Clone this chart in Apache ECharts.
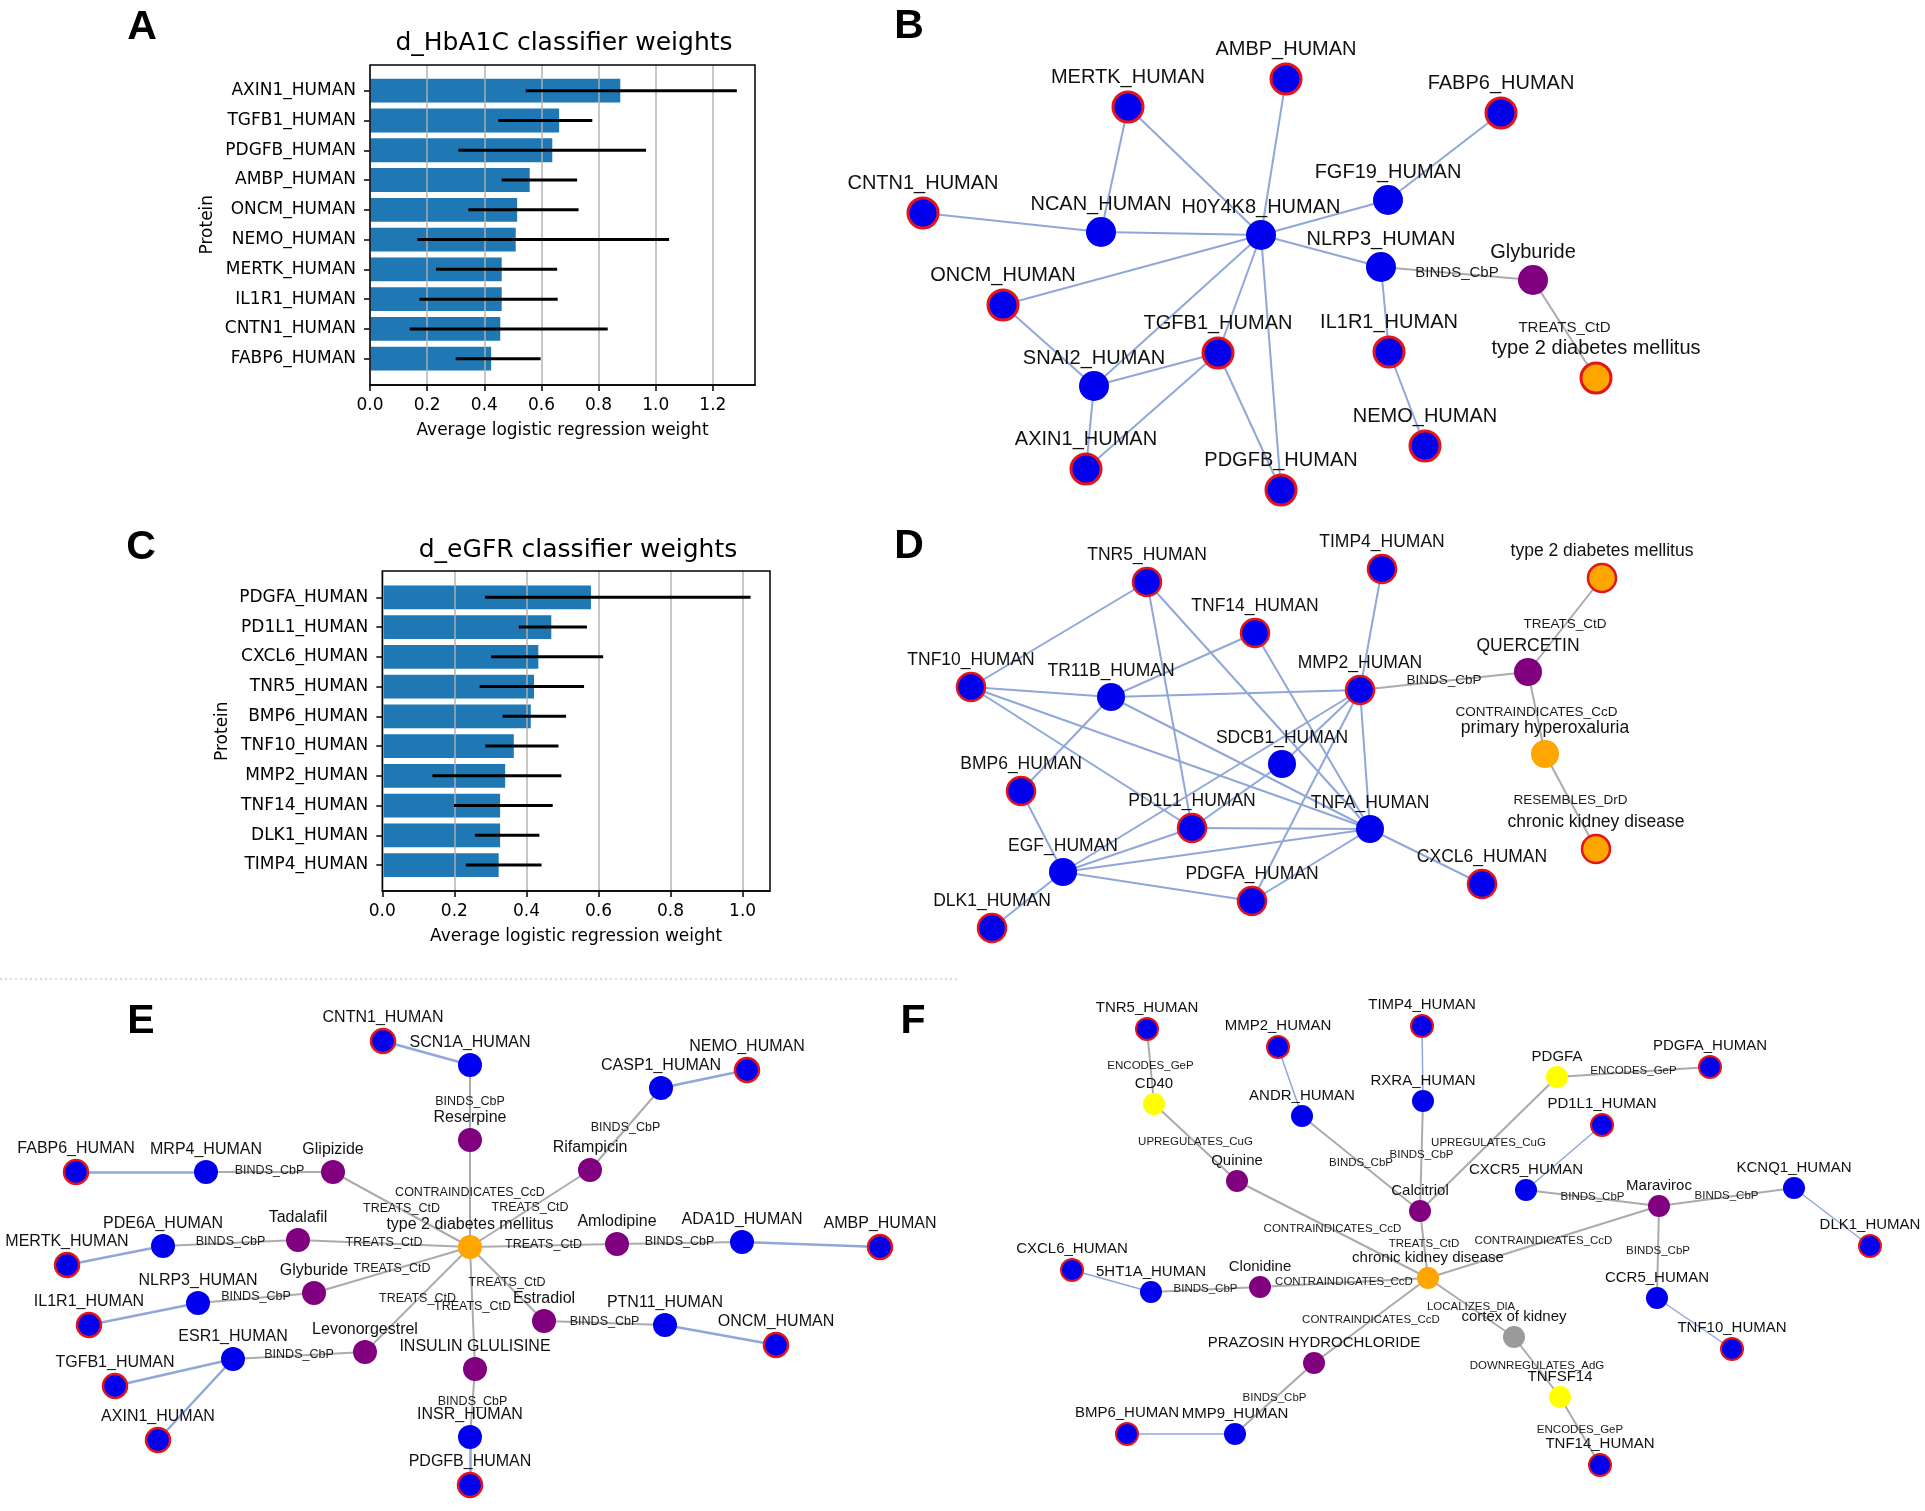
<!DOCTYPE html>
<html><head><meta charset="utf-8">
<script src="https://cdn.jsdelivr.net/npm/echarts@6/dist/echarts.min.js"></script>
<style>html,body{margin:0;padding:0;background:#fff}#c{width:1925px;height:1511px}</style>
</head><body><div id="c"></div>
<script>
// ---------- Panel A data ----------
const hbaProteins = ['AXIN1_HUMAN','TGFB1_HUMAN','PDGFB_HUMAN','AMBP_HUMAN','ONCM_HUMAN','NEMO_HUMAN','MERTK_HUMAN','IL1R1_HUMAN','CNTN1_HUMAN','FABP6_HUMAN'];
const hbaWeights = [0.876,0.662,0.638,0.559,0.515,0.510,0.461,0.461,0.456,0.424];
const hbaErrLow  = [0.545,0.449,0.309,0.461,0.344,0.166,0.231,0.173,0.139,0.300];
const hbaErrHigh = [1.284,0.778,0.966,0.725,0.730,1.047,0.655,0.657,0.832,0.597];
const hbaTicks = [0,0.2,0.4,0.6,0.8,1.0,1.2];
// ---------- Panel C data ----------
const egfrProteins = ['PDGFA_HUMAN','PD1L1_HUMAN','CXCL6_HUMAN','TNR5_HUMAN','BMP6_HUMAN','TNF10_HUMAN','MMP2_HUMAN','TNF14_HUMAN','DLK1_HUMAN','TIMP4_HUMAN'];
const egfrWeights = [0.579,0.469,0.433,0.421,0.412,0.365,0.341,0.327,0.327,0.323];
const egfrErrLow  = [0.285,0.379,0.302,0.270,0.334,0.286,0.139,0.199,0.257,0.232];
const egfrErrHigh = [1.022,0.568,0.613,0.560,0.510,0.489,0.497,0.473,0.436,0.442];
const egfrTicks = [0,0.2,0.4,0.6,0.8,1.0];

// ---------- Network data: [name, kind, layoutX, layoutY] ----------
// kinds: P protein, PT classifier protein, C compound, D disease, DT highlighted disease, G gene, A anatomy
const bNodes = [
 ['AMBP_HUMAN','PT',426,79],['MERTK_HUMAN','PT',268,107],['FABP6_HUMAN','PT',641,113],
 ['CNTN1_HUMAN','PT',63,213],['FGF19_HUMAN','P',528,200],['NCAN_HUMAN','P',241,232],
 ['H0Y4K8_HUMAN','P',401,235],['NLRP3_HUMAN','P',521,267],['Glyburide','C',673,280],
 ['ONCM_HUMAN','PT',143,305],['TGFB1_HUMAN','PT',358,353],['IL1R1_HUMAN','PT',529,352],
 ['type 2 diabetes mellitus','DT',736,378],['SNAI2_HUMAN','P',234,386],['NEMO_HUMAN','PT',565,446],
 ['AXIN1_HUMAN','PT',226,469],['PDGFB_HUMAN','PT',421,490]
];
const bLinks = [
 ['MERTK_HUMAN','NCAN_HUMAN',''],['MERTK_HUMAN','H0Y4K8_HUMAN',''],['AMBP_HUMAN','H0Y4K8_HUMAN',''],
 ['FABP6_HUMAN','FGF19_HUMAN',''],['FGF19_HUMAN','H0Y4K8_HUMAN',''],['CNTN1_HUMAN','NCAN_HUMAN',''],
 ['NCAN_HUMAN','H0Y4K8_HUMAN',''],['H0Y4K8_HUMAN','NLRP3_HUMAN',''],['H0Y4K8_HUMAN','ONCM_HUMAN',''],
 ['H0Y4K8_HUMAN','SNAI2_HUMAN',''],['H0Y4K8_HUMAN','TGFB1_HUMAN',''],['H0Y4K8_HUMAN','PDGFB_HUMAN',''],
 ['ONCM_HUMAN','SNAI2_HUMAN',''],['SNAI2_HUMAN','TGFB1_HUMAN',''],['SNAI2_HUMAN','AXIN1_HUMAN',''],
 ['TGFB1_HUMAN','AXIN1_HUMAN',''],['TGFB1_HUMAN','PDGFB_HUMAN',''],['NLRP3_HUMAN','IL1R1_HUMAN',''],
 ['IL1R1_HUMAN','NEMO_HUMAN',''],['NLRP3_HUMAN','Glyburide','BINDS_CbP'],
 ['Glyburide','type 2 diabetes mellitus','TREATS_CtD']
];
const dNodes = [
 ['TIMP4_HUMAN','PT',522,59],['type 2 diabetes mellitus','DT',742,68],['TNR5_HUMAN','PT',287,72],
 ['TNF14_HUMAN','PT',395,123],['TNF10_HUMAN','PT',111,177],['TR11B_HUMAN','P',251,187],
 ['MMP2_HUMAN','PT',500,180],['QUERCETIN','C',668,162],['SDCB1_HUMAN','P',422,254],
 ['primary hyperoxaluria','D',685,244],['BMP6_HUMAN','PT',161,281],['PD1L1_HUMAN','PT',332,318],
 ['TNFA_HUMAN','P',510,319],['chronic kidney disease','DT',736,339],['EGF_HUMAN','P',203,362],
 ['CXCL6_HUMAN','PT',622,374],['PDGFA_HUMAN','PT',392,391],['DLK1_HUMAN','PT',132,418]
];
const dLinks = [
 ['TNR5_HUMAN','TNF10_HUMAN',''],['TNR5_HUMAN','PD1L1_HUMAN',''],['TNR5_HUMAN','TNFA_HUMAN',''],
 ['TNF14_HUMAN','TR11B_HUMAN',''],['TNF14_HUMAN','TNFA_HUMAN',''],['TIMP4_HUMAN','MMP2_HUMAN',''],
 ['TNF10_HUMAN','TR11B_HUMAN',''],['TNF10_HUMAN','PD1L1_HUMAN',''],['TNF10_HUMAN','TNFA_HUMAN',''],
 ['TR11B_HUMAN','MMP2_HUMAN',''],['TR11B_HUMAN','TNFA_HUMAN',''],['TR11B_HUMAN','BMP6_HUMAN',''],
 ['BMP6_HUMAN','EGF_HUMAN',''],['MMP2_HUMAN','EGF_HUMAN',''],['MMP2_HUMAN','SDCB1_HUMAN',''],
 ['SDCB1_HUMAN','PD1L1_HUMAN',''],['MMP2_HUMAN','PDGFA_HUMAN',''],['MMP2_HUMAN','TNFA_HUMAN',''],
 ['PD1L1_HUMAN','TNFA_HUMAN',''],['EGF_HUMAN','PD1L1_HUMAN',''],['EGF_HUMAN','TNFA_HUMAN',''],
 ['EGF_HUMAN','PDGFA_HUMAN',''],['EGF_HUMAN','DLK1_HUMAN',''],['PDGFA_HUMAN','TNFA_HUMAN',''],
 ['TNFA_HUMAN','CXCL6_HUMAN',''],['MMP2_HUMAN','QUERCETIN','BINDS_CbP'],
 ['QUERCETIN','type 2 diabetes mellitus','TREATS_CtD'],
 ['QUERCETIN','primary hyperoxaluria','CONTRAINDICATES_CcD'],
 ['primary hyperoxaluria','chronic kidney disease','RESEMBLES_DrD']
];
const eNodes = [
 ['CNTN1_HUMAN','PT',383,61],['SCN1A_HUMAN','P',470,85],['NEMO_HUMAN','PT',747,90],
 ['CASP1_HUMAN','P',661,108],['Reserpine','C',470,160],['FABP6_HUMAN','PT',76,192],
 ['MRP4_HUMAN','P',206,192],['Glipizide','C',333,192],['Rifampicin','C',590,190],
 ['type 2 diabetes mellitus','D',470,267],['PDE6A_HUMAN','P',163,266],['Tadalafil','C',298,260],
 ['Amlodipine','C',617,264],['ADA1D_HUMAN','P',742,262],['AMBP_HUMAN','PT',880,267],
 ['MERTK_HUMAN','PT',67,285],['Glyburide','C',314,313],['NLRP3_HUMAN','P',198,323],
 ['IL1R1_HUMAN','PT',89,345],['Estradiol','C',544,341],['PTN11_HUMAN','P',665,345],
 ['ONCM_HUMAN','PT',776,365],['Levonorgestrel','C',365,372],['ESR1_HUMAN','P',233,379],
 ['INSULIN GLULISINE','C',475,389],['TGFB1_HUMAN','PT',115,406],['INSR_HUMAN','P',470,457],
 ['AXIN1_HUMAN','PT',158,460],['PDGFB_HUMAN','PT',470,505]
];
const eLinks = [
 ['CNTN1_HUMAN','SCN1A_HUMAN',''],['SCN1A_HUMAN','Reserpine','BINDS_CbP'],
 ['NEMO_HUMAN','CASP1_HUMAN',''],['CASP1_HUMAN','Rifampicin','BINDS_CbP'],
 ['Reserpine','type 2 diabetes mellitus','CONTRAINDICATES_CcD'],['Rifampicin','type 2 diabetes mellitus','TREATS_CtD'],
 ['FABP6_HUMAN','MRP4_HUMAN',''],['MRP4_HUMAN','Glipizide','BINDS_CbP'],
 ['Glipizide','type 2 diabetes mellitus','TREATS_CtD'],['PDE6A_HUMAN','Tadalafil','BINDS_CbP'],
 ['MERTK_HUMAN','PDE6A_HUMAN',''],['Tadalafil','type 2 diabetes mellitus','TREATS_CtD'],
 ['Amlodipine','type 2 diabetes mellitus','TREATS_CtD'],['Amlodipine','ADA1D_HUMAN','BINDS_CbP'],
 ['ADA1D_HUMAN','AMBP_HUMAN',''],['Glyburide','type 2 diabetes mellitus','TREATS_CtD'],
 ['NLRP3_HUMAN','Glyburide','BINDS_CbP'],['IL1R1_HUMAN','NLRP3_HUMAN',''],
 ['Levonorgestrel','type 2 diabetes mellitus','TREATS_CtD'],['ESR1_HUMAN','Levonorgestrel','BINDS_CbP'],
 ['ESR1_HUMAN','TGFB1_HUMAN',''],['ESR1_HUMAN','AXIN1_HUMAN',''],
 ['Estradiol','type 2 diabetes mellitus','TREATS_CtD'],['Estradiol','PTN11_HUMAN','BINDS_CbP'],
 ['PTN11_HUMAN','ONCM_HUMAN',''],['INSULIN GLULISINE','type 2 diabetes mellitus','TREATS_CtD'],
 ['INSULIN GLULISINE','INSR_HUMAN','BINDS_CbP'],['INSR_HUMAN','PDGFB_HUMAN','']
];
const fNodes = [
 ['TNR5_HUMAN','PT',187,49],['TIMP4_HUMAN','PT',462,46],['MMP2_HUMAN','PT',318,67],
 ['PDGFA_HUMAN','PT',750,87],['PDGFA','G',597,97],['CD40','G',194,124],
 ['RXRA_HUMAN','P',463,121],['ANDR_HUMAN','P',342,136],['PD1L1_HUMAN','PT',642,145],
 ['Quinine','C',277,201],['KCNQ1_HUMAN','P',834,208],['CXCR5_HUMAN','P',566,210],
 ['Maraviroc','C',699,226],['Calcitriol','C',460,231],['DLK1_HUMAN','PT',910,266],
 ['CXCL6_HUMAN','PT',112,290],['chronic kidney disease','D',468,298],['5HT1A_HUMAN','P',191,312],
 ['Clonidine','C',300,307],['CCR5_HUMAN','P',697,318],['cortex of kidney','A',554,357],
 ['TNF10_HUMAN','PT',772,369],['PRAZOSIN HYDROCHLORIDE','C',354,383],['TNFSF14','G',600,417],
 ['BMP6_HUMAN','PT',167,454],['MMP9_HUMAN','P',275,454],['TNF14_HUMAN','PT',640,485]
];
const fLinks = [
 ['TNR5_HUMAN','CD40','ENCODES_GeP'],['CD40','Quinine','UPREGULATES_CuG'],
 ['MMP2_HUMAN','ANDR_HUMAN',''],['ANDR_HUMAN','Calcitriol','BINDS_CbP'],
 ['TIMP4_HUMAN','RXRA_HUMAN',''],['RXRA_HUMAN','Calcitriol','BINDS_CbP'],
 ['PDGFA','PDGFA_HUMAN','ENCODES_GeP'],['PDGFA','Calcitriol','UPREGULATES_CuG'],
 ['PD1L1_HUMAN','CXCR5_HUMAN',''],['CXCR5_HUMAN','Maraviroc','BINDS_CbP'],
 ['Maraviroc','KCNQ1_HUMAN','BINDS_CbP'],['KCNQ1_HUMAN','DLK1_HUMAN',''],
 ['Maraviroc','CCR5_HUMAN','BINDS_CbP'],['CCR5_HUMAN','TNF10_HUMAN',''],
 ['Maraviroc','chronic kidney disease','CONTRAINDICATES_CcD'],['Quinine','chronic kidney disease','CONTRAINDICATES_CcD'],
 ['Calcitriol','chronic kidney disease','TREATS_CtD'],['Clonidine','chronic kidney disease','CONTRAINDICATES_CcD'],
 ['5HT1A_HUMAN','Clonidine','BINDS_CbP'],['CXCL6_HUMAN','5HT1A_HUMAN',''],
 ['PRAZOSIN HYDROCHLORIDE','chronic kidney disease','CONTRAINDICATES_CcD'],['MMP9_HUMAN','PRAZOSIN HYDROCHLORIDE','BINDS_CbP'],
 ['BMP6_HUMAN','MMP9_HUMAN',''],['chronic kidney disease','cortex of kidney','LOCALIZES_DlA'],
 ['cortex of kidney','TNFSF14','DOWNREGULATES_AdG'],['TNFSF14','TNF14_HUMAN','ENCODES_GeP']
];

// ---------- styling / layout ----------
const MPL_FONT = '"DejaVu Sans", sans-serif';
const NET_FONT = '"Liberation Sans", Arial, sans-serif';
const KIND_COLOR = {P:'#0000ee',PT:'#0000ee',C:'#800080',D:'#ffa500',DT:'#ffa500',G:'#ffff00',A:'#9a9a9a'};
const isProt = k => k === 'P' || k === 'PT';

function network(gi, nodes, links, st) {
  const pos = {}, kind = {};
  nodes.forEach(n => { pos[n[0]] = [n[2], n[3]]; kind[n[0]] = n[1]; });
  const graph = {
    type: 'graph', coordinateSystem: 'cartesian2d', xAxisIndex: gi, yAxisIndex: gi,
    symbol: 'circle', symbolSize: st.size, z: 2, silent: true, animation: false,
    label: {show: true, position: 'top', distance: st.dist, fontSize: st.font, fontFamily: NET_FONT, color: '#111'},
    lineStyle: {opacity: 1, curveness: 0},
    emphasis: {disabled: true},
    data: nodes.map(n => ({
      name: n[0], value: [n[2], n[3]],
      itemStyle: {color: KIND_COLOR[n[1]], borderColor: '#e3141c',
                  borderWidth: (n[1] === 'PT' || n[1] === 'DT') ? st.border : 0}
    })),
    links: links.map(l => ({
      source: l[0], target: l[1],
      lineStyle: (isProt(kind[l[0]]) && isProt(kind[l[1]]))
        ? {color: '#8fa7d9', width: st.pw, opacity: 1}
        : {color: '#ababab', width: st.gw, opacity: 1}
    }))
  };
  const edgeLabels = {
    type: 'scatter', xAxisIndex: gi, yAxisIndex: gi, symbolSize: 1, z: 3, silent: true, animation: false,
    itemStyle: {color: '#ffffff', opacity: 1},
    emphasis: {disabled: true},
    label: {show: true, position: 'inside', formatter: '{b}', fontSize: st.efont, fontFamily: NET_FONT,
            color: '#1a1a1a', textBorderWidth: 0, textBorderColor: 'transparent', opacity: 1, offset: [0, -1]},
    data: links.filter(l => l[2]).map(l => ({
      name: l[2],
      value: [(pos[l[0]][0] + pos[l[1]][0]) / 2, (pos[l[0]][1] + pos[l[1]][1]) / 2]
    }))
  };
  return [graph, edgeLabels];
}

function boxAxis(gi, max, ticks) {
  return {
    gridIndex: gi, type: 'value', min: 0, max: max, interval: 0.2, z: 3,
    axisLine: {show: true, lineStyle: {color: '#000', width: 1.5}},
    axisTick: {show: true, length: 6, customValues: ticks, lineStyle: {color: '#000', width: 1.5}},
    axisLabel: {customValues: ticks, formatter: v => v.toFixed(1), margin: 12, fontSize: 17, fontFamily: MPL_FONT, color: '#000'},
    splitLine: {show: true, lineStyle: {color: 'rgba(176,176,176,0.95)', width: 1.5}},
    name: 'Average logistic regression weight', nameLocation: 'middle', nameGap: 37,
    nameTextStyle: {fontSize: 17, fontFamily: MPL_FONT, color: '#000'}
  };
}
function catAxis(gi, cats, gap) {
  return {
    gridIndex: gi, type: 'category', data: cats, inverse: true,
    axisLine: {show: false},
    axisTick: {show: true, alignWithLabel: true, length: 6, lineStyle: {color: '#000', width: 1.5}},
    axisLabel: {margin: 14, fontSize: 17, fontFamily: MPL_FONT, color: '#000'},
    name: 'Protein', nameLocation: 'middle', nameGap: gap, nameRotate: 90,
    nameTextStyle: {fontSize: 17, fontFamily: MPL_FONT, color: '#000'}
  };
}
function errSeries(gi, lo, hi) {
  return {
    type: 'custom', xAxisIndex: gi, yAxisIndex: gi, z: 5, silent: true, animation: false,
    data: lo.map((v, i) => [v, hi[i], i]),
    encode: {x: [0, 1], y: 2},
    renderItem: (params, api) => {
      const a = api.coord([api.value(0), api.value(2)]);
      const b = api.coord([api.value(1), api.value(2)]);
      return {type: 'line', shape: {x1: a[0], y1: a[1], x2: b[0], y2: b[1]}, style: {stroke: '#000', lineWidth: 3}};
    }
  };
}
const hiddenX = (gi, max) => ({gridIndex: gi, type: 'value', min: 0, max: max, show: false});
const hiddenY = (gi, max, inv) => ({gridIndex: gi, type: 'value', min: 0, max: max, show: false, inverse: !!inv});

const A_MAX = 1.3475, C_MAX = 1.076;
const net = {
  B: {size: 30, border: 3, font: 20, efont: 15, pw: 2, gw: 2, dist: 3},
  D: {size: 28, border: 2.5, font: 17.5, efont: 13.5, pw: 2, gw: 2, dist: 3},
  E: {size: 24, border: 2.5, font: 16, efont: 12.5, pw: 2.5, gw: 2, dist: 2},
  F: {size: 22, border: 2, font: 15, efont: 11.5, pw: 1.5, gw: 2, dist: 2}
};
const gb = {outerBoundsMode: 'none', containLabel: false};

const chart = echarts.init(document.getElementById('c'), null, {renderer: 'canvas'});
const letter = (t, x, y) => ({type: 'text', x: x, y: y, silent: true,
  style: {text: t, font: 'bold 41px "Liberation Sans", Arial, sans-serif', fill: '#000',
          align: 'center', verticalAlign: 'middle', textAlign: 'center', textVerticalAlign: 'middle'}});
const ttl = (t, x, y) => ({type: 'text', x: x, y: y, silent: true,
  style: {text: t, font: '25px "DejaVu Sans", sans-serif', fill: '#000',
          align: 'center', verticalAlign: 'middle', textAlign: 'center', textVerticalAlign: 'middle'}});

chart.setOption({
  animation: false,
  backgroundColor: '#fff',
  grid: [
    Object.assign({left: 370, top: 75.8, width: 385, height: 297.8}, gb),
    Object.assign({left: 370, top: 65, width: 385, height: 320, show: true, borderColor: '#000', borderWidth: 1.5, z: 4}, gb),
    Object.assign({left: 382.3, top: 582.5, width: 387.7, height: 297.4}, gb),
    Object.assign({left: 382.3, top: 571, width: 387.7, height: 320, show: true, borderColor: '#000', borderWidth: 1.5, z: 4}, gb),
    Object.assign({left: 860, top: 0, width: 1065, height: 510}, gb),
    Object.assign({left: 860, top: 510, width: 1065, height: 470}, gb),
    Object.assign({left: 0, top: 980, width: 960, height: 531}, gb),
    Object.assign({left: 960, top: 980, width: 965, height: 531}, gb)
  ],
  xAxis: [
    hiddenX(0, A_MAX), boxAxis(1, A_MAX, hbaTicks),
    hiddenX(2, C_MAX), boxAxis(3, C_MAX, egfrTicks),
    hiddenX(4, 1065), hiddenX(5, 1065), hiddenX(6, 960), hiddenX(7, 965)
  ],
  yAxis: [
    catAxis(0, hbaProteins, 154), hiddenY(1, 1),
    catAxis(2, egfrProteins, 151), hiddenY(3, 1),
    hiddenY(4, 510, true), hiddenY(5, 470, true), hiddenY(6, 531, true), hiddenY(7, 531, true)
  ],
  series: [
    {type: 'bar', xAxisIndex: 0, yAxisIndex: 0, data: hbaWeights, barWidth: '80%', itemStyle: {color: '#1f77b4'}, z: 2, silent: true},
    errSeries(0, hbaErrLow, hbaErrHigh),
    {type: 'bar', xAxisIndex: 2, yAxisIndex: 2, data: egfrWeights, barWidth: '80%', itemStyle: {color: '#1f77b4'}, z: 2, silent: true},
    errSeries(2, egfrErrLow, egfrErrHigh),
    ...network(4, bNodes, bLinks, net.B),
    ...network(5, dNodes, dLinks, net.D),
    ...network(6, eNodes, eLinks, net.E),
    ...network(7, fNodes, fLinks, net.F)
  ],
  graphic: [
    letter('A', 142, 28), letter('B', 909, 27), letter('C', 141, 548),
    letter('D', 909, 547), letter('E', 141, 1022), letter('F', 913, 1022),
    ttl('d_HbA1C classifier weights', 564, 43), ttl('d_eGFR classifier weights', 578, 550),
    {type: 'line', silent: true, shape: {x1: 0, y1: 979, x2: 958, y2: 979},
     style: {stroke: '#cfcfcf', lineWidth: 1.5, lineDash: [2, 3]}}
  ]
});
</script></body></html>
